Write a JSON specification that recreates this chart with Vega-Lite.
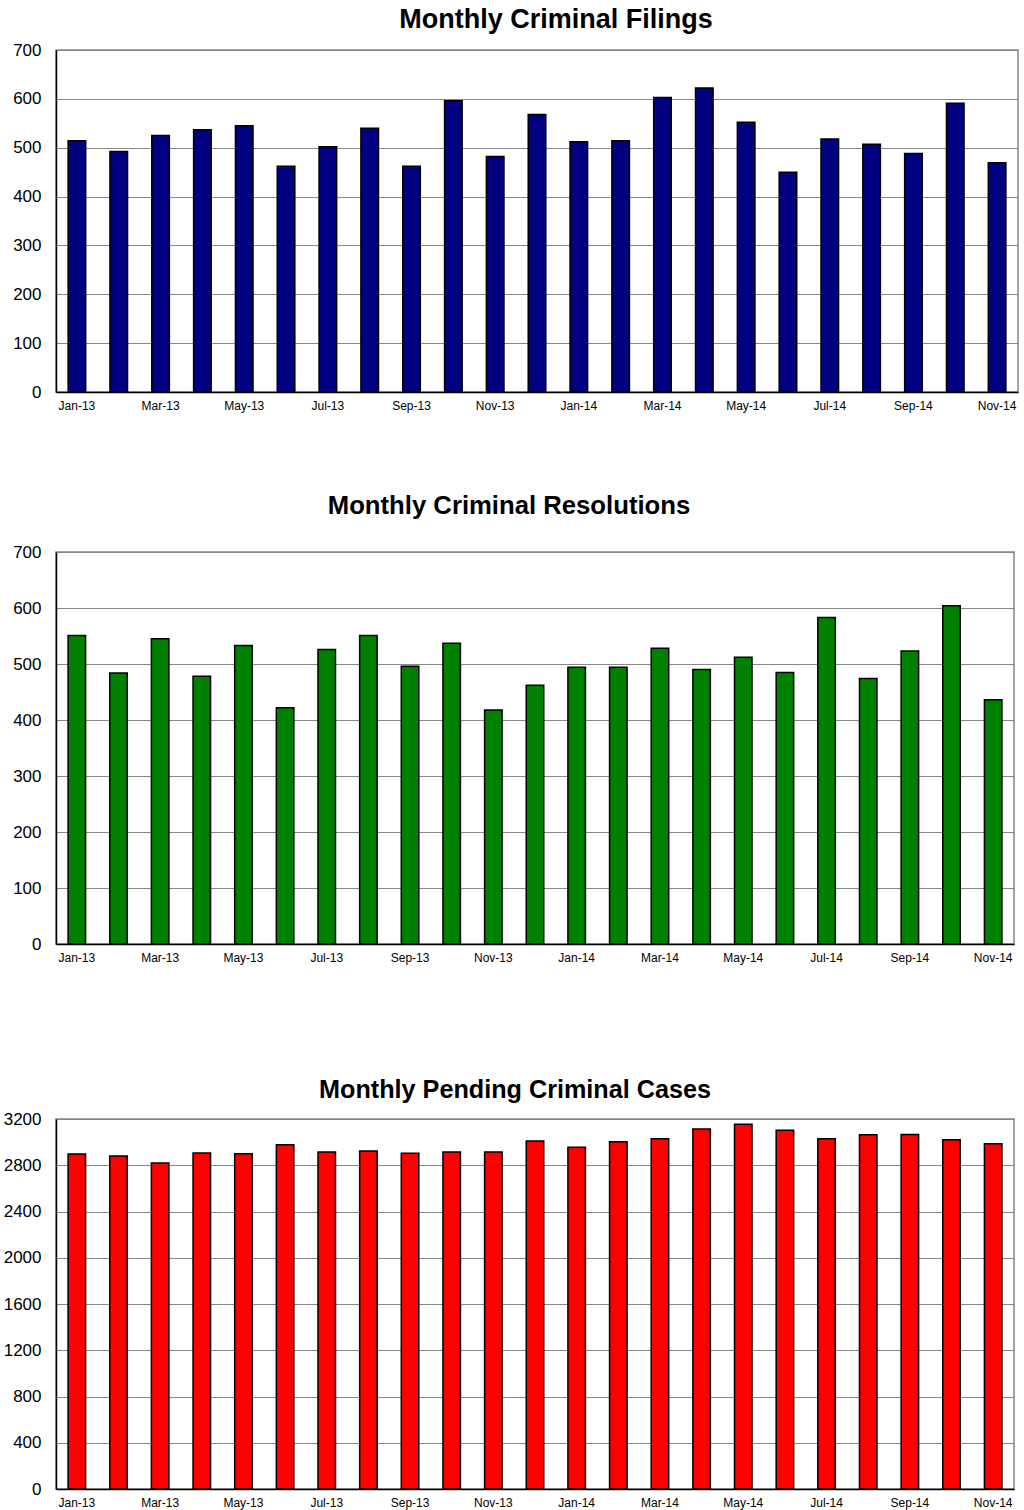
{
  "$schema": "https://vega.github.io/schema/vega-lite/v6.json",
  "padding": {"left": 2, "top": 5, "right": 5, "bottom": 2},
  "background": "white",
  "datasets": {
    "monthly": [
      {"month": "Jan-13", "filings": 514, "resolutions": 551, "pending": 2897},
      {"month": "Feb-13", "filings": 492, "resolutions": 484, "pending": 2880},
      {"month": "Mar-13", "filings": 525, "resolutions": 545, "pending": 2820},
      {"month": "Apr-13", "filings": 537, "resolutions": 478, "pending": 2906},
      {"month": "May-13", "filings": 545, "resolutions": 533, "pending": 2900},
      {"month": "Jun-13", "filings": 462, "resolutions": 422, "pending": 2978},
      {"month": "Jul-13", "filings": 502, "resolutions": 526, "pending": 2915},
      {"month": "Aug-13", "filings": 540, "resolutions": 551, "pending": 2923},
      {"month": "Sep-13", "filings": 462, "resolutions": 496, "pending": 2903},
      {"month": "Oct-13", "filings": 596, "resolutions": 537, "pending": 2915},
      {"month": "Nov-13", "filings": 482, "resolutions": 418, "pending": 2915},
      {"month": "Dec-13", "filings": 568, "resolutions": 462, "pending": 3010},
      {"month": "Jan-14", "filings": 512, "resolutions": 494, "pending": 2955},
      {"month": "Feb-14", "filings": 514, "resolutions": 494, "pending": 3004},
      {"month": "Mar-14", "filings": 603, "resolutions": 528, "pending": 3030},
      {"month": "Apr-14", "filings": 622, "resolutions": 490, "pending": 3113},
      {"month": "May-14", "filings": 552, "resolutions": 512, "pending": 3154},
      {"month": "Jun-14", "filings": 450, "resolutions": 485, "pending": 3102},
      {"month": "Jul-14", "filings": 518, "resolutions": 583, "pending": 3030},
      {"month": "Aug-14", "filings": 507, "resolutions": 474, "pending": 3064},
      {"month": "Sep-14", "filings": 488, "resolutions": 523, "pending": 3067},
      {"month": "Oct-14", "filings": 591, "resolutions": 604, "pending": 3021},
      {"month": "Nov-14", "filings": 469, "resolutions": 436, "pending": 2987}
    ]
  },
  "config": {
    "view": {"stroke": "#888888", "strokeWidth": 1.5},
    "font": "Liberation Sans",
    "title": {"font": "Liberation Sans", "fontSize": 26, "fontWeight": "bold", "color": "#000000", "anchor": "middle", "baseline": "alphabetic"},
    "axisX": {"labelFont": "Liberation Sans", "labelFontSize": 12, "labelColor": "#000000", "labelAngle": 0, "labelPadding": 8, "ticks": false, "domainColor": "#000000", "domainWidth": 1.5, "grid": false, "title": null},
    "axisY": {"labelFont": "Liberation Sans", "labelFontSize": 17, "labelColor": "#000000", "labelPadding": 15, "ticks": false, "domainColor": "#000000", "domainWidth": 1.5, "gridColor": "#888888", "gridWidth": 1, "gridOpacity": 1, "title": null, "format": "d"},
    "bar": {"stroke": "#000000", "strokeWidth": 1.5}
  },
  "vconcat": [
    {
      "spacing": 80,
      "vconcat": [
        {
          "title": {"text": "Monthly Criminal Filings", "offset": 7, "dx": 19, "fontSize": 27},
          "width": 962,
          "height": 342,
          "data": {"name": "monthly"},
          "mark": {"type": "bar", "fill": "#000080"},
          "encoding": {
            "x": {"field": "month", "type": "ordinal", "sort": null, "scale": {"paddingInner": 0.58, "paddingOuter": 0.29}, "axis": {"values": ["Jan-13", "Mar-13", "May-13", "Jul-13", "Sep-13", "Nov-13", "Jan-14", "Mar-14", "May-14", "Jul-14", "Sep-14", "Nov-14"]}},
            "y": {"field": "filings", "type": "quantitative", "scale": {"domain": [0, 700], "nice": false}, "axis": {"values": [0, 100, 200, 300, 400, 500, 600, 700]}}
          }
        },
        {
          "title": {"text": "Monthly Criminal Resolutions", "offset": 23, "dx": -26, "fontSize": 25.7},
          "width": 958,
          "height": 392,
          "data": {"name": "monthly"},
          "mark": {"type": "bar", "fill": "#008000"},
          "encoding": {
            "x": {"field": "month", "type": "ordinal", "sort": null, "scale": {"paddingInner": 0.58, "paddingOuter": 0.29}, "axis": {"values": ["Jan-13", "Mar-13", "May-13", "Jul-13", "Sep-13", "Nov-13", "Jan-14", "Mar-14", "May-14", "Jul-14", "Sep-14", "Nov-14"]}},
            "y": {"field": "resolutions", "type": "quantitative", "scale": {"domain": [0, 700], "nice": false}, "axis": {"values": [0, 100, 200, 300, 400, 500, 600, 700]}}
          }
        }
      ]
    },
    {
      "title": {"text": "Monthly Pending Criminal Cases", "offset": 7, "dx": -20, "fontSize": 25.2},
      "width": 958,
      "height": 370,
      "data": {"name": "monthly"},
      "mark": {"type": "bar", "fill": "#ff0000"},
      "encoding": {
        "x": {"field": "month", "type": "ordinal", "sort": null, "scale": {"paddingInner": 0.58, "paddingOuter": 0.29}, "axis": {"values": ["Jan-13", "Mar-13", "May-13", "Jul-13", "Sep-13", "Nov-13", "Jan-14", "Mar-14", "May-14", "Jul-14", "Sep-14", "Nov-14"]}},
        "y": {"field": "pending", "type": "quantitative", "scale": {"domain": [0, 3200], "nice": false}, "axis": {"values": [0, 400, 800, 1200, 1600, 2000, 2400, 2800, 3200]}}
      }
    }
  ],
  "spacing": 113
}
